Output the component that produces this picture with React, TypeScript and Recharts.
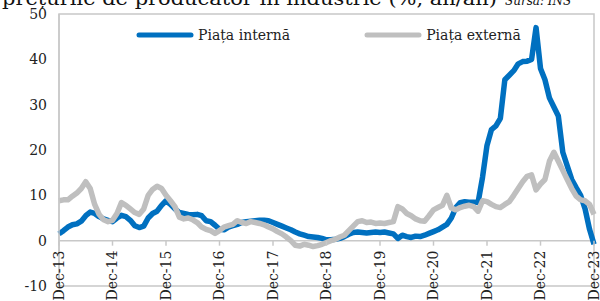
import { LineChart, Line, XAxis, YAxis, ReferenceLine, ReferenceArea } from 'recharts';

// luna 0 = Dec-13, luna 120 = Dec-23
const tickLabels = ['Dec-13', 'Dec-14', 'Dec-15', 'Dec-16', 'Dec-17', 'Dec-18', 'Dec-19', 'Dec-20', 'Dec-21', 'Dec-22', 'Dec-23'];

const pietaInterna = [
  1.5,
  2.2, 3.0, 3.5, 3.7, 4.3, 5.5, 6.3, 6.0, 5.3, 4.8, 4.5, 4.2,
  5.0, 5.6, 5.3, 4.5, 3.3, 2.9, 3.2, 5.0, 6.0, 6.5, 7.8, 8.8,
  8.0, 7.0, 6.2, 6.0, 5.8, 5.7, 5.8, 5.5, 4.4, 4.2, 3.4, 2.5,
  2.4, 3.0, 3.3, 3.6, 4.0, 4.2, 4.3, 4.4, 4.5, 4.5, 4.4, 4.0,
  3.6, 3.2, 2.8, 2.4, 1.9, 1.5, 1.2, 0.9, 0.8, 0.7, 0.5, 0.2,
  0.2, 0.3, 0.5, 0.9, 1.4, 1.8, 1.9, 1.8, 1.7, 1.8, 1.9, 1.8,
  1.9, 1.7, 1.5, 0.5, 1.2, 0.9, 0.7, 1.0, 0.9, 1.2, 1.6, 2.0,
  2.4, 3.0, 3.6, 5.0, 7.3, 8.4, 8.6, 8.5, 8.5, 8.4, 14.0, 21.0,
  24.5, 25.3, 27.0, 35.5, 36.5, 37.5, 39.0, 39.5, 39.6, 40.0, 47.0, 38.0,
  35.5, 31.5, 29.5, 27.5, 19.5, 16.5, 13.5, 11.7, 10.0, 7.0, 2.5, -0.8,
];

const pietaExterna = [
  8.8,
  9.0, 9.0, 9.8, 10.5, 11.5, 13.0, 11.5, 8.0, 5.8, 4.6, 4.2, 4.5,
  6.0, 8.4, 7.8, 7.0, 6.2, 5.8, 7.0, 10.0, 11.3, 12.0, 11.5, 10.0,
  8.8, 7.5, 5.2, 4.8, 5.0, 4.6, 4.0, 3.0, 2.5, 2.2, 1.6, 2.2,
  3.0, 3.3, 3.6, 4.4, 4.0, 3.8, 4.2, 4.0, 3.8, 3.5, 3.0, 2.6,
  2.0, 1.5, 0.8, 0.0, -1.0, -1.2, -0.8, -1.0, -1.3, -1.1, -0.8, -0.4,
  0.0, 0.3, 0.8, 1.2, 2.2, 3.2, 4.2, 4.4, 4.0, 4.1, 3.8, 3.9,
  3.8, 4.0, 4.2, 7.5, 7.0, 6.0, 5.5, 4.8, 4.4, 4.3, 5.5, 6.8,
  7.3, 7.8, 10.0, 7.2, 6.8, 7.3, 7.6, 7.8, 7.5, 6.5, 8.8, 8.6,
  8.0, 7.5, 7.3, 8.0, 8.6, 10.0, 11.5, 13.0, 14.2, 14.5, 11.2, 12.5,
  13.5, 17.5, 19.5, 17.5, 15.5, 13.5, 11.5, 9.8, 9.0, 8.8, 8.0, 5.8,
];

const yTicks = [-10, 0, 10, 20, 30, 40, 50];

const data = pietaInterna.map((v, i) => ({ m: i, interna: v, externa: pietaExterna[i] }));

const FONT = '"DejaVu Serif", serif';
const BLUE = '#0070C0';
const GREY = '#BFBFBF';
const AXIS = '#C8C8C8';

const MARGIN = { top: 14, right: 6, bottom: 0, left: 0 };
const X_H = 15;
const PLOT_H = 301 - MARGIN.top - MARGIN.bottom - X_H;
// axa X trece prin 0, nu prin -10
const ZERO_SHIFT = (PLOT_H * 10) / 60;

const XTick = (props: any) => {
  const { x, y, payload } = props;
  const y0 = y - ZERO_SHIFT;
  return (
    <g>
      <line x1={x} x2={x} y1={y0} y2={y0 + 5} stroke={AXIS} strokeWidth={1.5} />
      <text
        transform={`translate(${x},${y0 + 10}) rotate(-90)`}
        textAnchor="end"
        dy="0.35em"
        fontSize={14}
        fontFamily={FONT}
        fill="#222"
      >
        {tickLabels[Math.round(payload.value / 12)]}
      </text>
    </g>
  );
};

const LegendItem = ({ color, label }: { color: string; label: string }) => (
  <div style={{ display: 'flex', alignItems: 'center' }}>
    <svg width={58} height={8}>
      <line x1={3} x2={55} y1={4} y2={4} stroke={color} strokeWidth={5} strokeLinecap="round" />
    </svg>
    <span style={{ marginLeft: 4, fontSize: 14, fontFamily: FONT, color: '#222' }}>{label}</span>
  </div>
);

export default function App() {
  return (
    <div style={{ position: 'absolute', top: 0, left: 0, width: 600, height: 301, background: '#fff' }}>
      <LineChart width={600} height={301} data={data} margin={MARGIN}>
        <ReferenceArea x1={0} x2={120} y1={-10} y2={50} fill="none" stroke={AXIS} strokeWidth={1.5} />
        <ReferenceLine y={0} stroke={AXIS} strokeWidth={1.5} />
        <XAxis
          dataKey="m"
          type="number"
          domain={[0, 120]}
          ticks={tickLabels.map((_, i) => i * 12)}
          height={X_H}
          axisLine={false}
          tickLine={false}
          tickSize={0}
          tickMargin={0}
          tick={<XTick />}
          interval={0}
        />
        <YAxis
          domain={[-10, 50]}
          ticks={yTicks}
          width={59}
          axisLine={{ stroke: AXIS, strokeWidth: 1.5 }}
          tickLine={false}
          tickSize={0}
          tickMargin={12}
          tick={{ fontSize: 14, fontFamily: FONT, fill: '#222' }}
        />
        <Line
          dataKey="interna"
          type="linear"
          stroke={BLUE}
          strokeWidth={5.5}
          strokeLinejoin="round"
          dot={false}
          isAnimationActive={false}
        />
        <Line
          dataKey="externa"
          type="linear"
          stroke={GREY}
          strokeWidth={5.5}
          strokeLinejoin="round"
          dot={false}
          isAnimationActive={false}
        />
      </LineChart>
      <svg width={600} height={14} style={{ position: 'absolute', top: 0, left: 0 }}>
        <text x={2} y={5} fontSize={18} fontFamily={FONT} fill="#111" textLength={495} lengthAdjust="spacingAndGlyphs">
          prețurile de producător în industrie (%, an/an)
        </text>
        <text x={505} y={5} fontSize={12} fontStyle="italic" fontFamily={FONT} fill="#111">
          Sursa: INS
        </text>
      </svg>
      <div style={{ position: 'absolute', top: 27, left: 136, display: 'flex' }}>
        <LegendItem color={BLUE} label="Piața internă" />
        <div style={{ width: 74 }} />
        <LegendItem color={GREY} label="Piața externă" />
      </div>
    </div>
  );
}
